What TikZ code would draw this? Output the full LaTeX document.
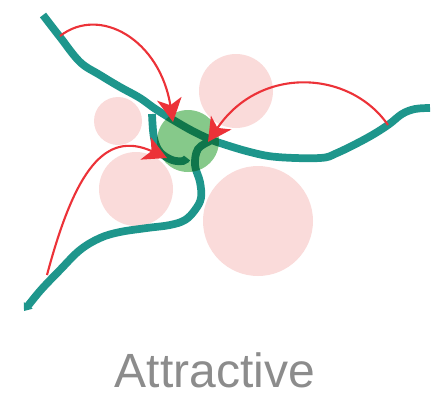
\documentclass[tikz,border=0pt]{standalone}
\usepackage{fontspec}
\setmainfont{Liberation Sans}
\usepackage{xcolor}
\usepackage{tikz}
\usetikzlibrary{arrows.meta}

\definecolor{roadteal}{RGB}{30,150,140}
\definecolor{blobpink}{RGB}{250,219,218}
\definecolor{hubgreen}{RGB}{134,201,138}
\definecolor{pullred}{RGB}{236,50,56}
\definecolor{labelgray}{RGB}{140,140,140}

\begin{document}
\begin{tikzpicture}[
    x=0.03cm, y=-0.03cm,
    road/.style={draw=roadteal, line width=6.6pt},
    blob/.style={fill=blobpink},
    pull/.style={draw=pullred, line width=1.8pt, -{Stealth[length=20pt, width=21pt, inset=5.5pt]}}
]
\useasboundingbox (0,0) rectangle (446,406);

% pink regions
\fill[blob] (236,91) circle (37);
\fill[blob] (118,121) circle (24);
\fill[blob] (136,189) circle (37);
\fill[blob] (258,221) circle (55);

% paths
\draw[road] plot[smooth, tension=0.6] coordinates {(43,15) (60,37) (80,62) (100,75) (120,87) (140,98) (157,110) (187,128) (207,138) (220,143) (250,152) (277,157) (320,158) (337,153) (367,138) (388,125) (402,114) (415,109) (430,108)};
\draw[road] plot[smooth, tension=0.6] coordinates {(152,114) (154,138) (160,152) (172,160) (183,161) (187,158)};
\draw[road, -{Triangle[length=6pt, width=9pt]}] plot[smooth, tension=0.6] coordinates {(210,141) (198,149) (195,165) (200,182) (201,198) (195,210) (185,220) (170,225) (147,228) (120,232) (100,238) (80,250) (60,270) (40,291) (24,311)};

% hub
\begin{scope}[blend mode=multiply]
\fill[hubgreen] (188,141) circle (31);
\end{scope}

% attraction arrows
\coordinate (s1) at (60,36);
\coordinate (t1) at (173,122);
\coordinate (s2) at (388,125);
\coordinate (t2) at (208,142);
\coordinate (s3) at (47,275);
\coordinate (t3) at (167,158);
\draw[pull] (s1) .. controls (100,5) and (160,40) .. (t1);
\draw[pull] (s2) .. controls (350,70) and (260,65) .. (t2);
\draw[pull] (s3) .. controls (75,170) and (105,130) .. (t3);

\node[text=labelgray, font=\fontsize{41}{46}\selectfont, anchor=base] (cap) at (215,387) {Attractive};
\end{tikzpicture}
\end{document}
